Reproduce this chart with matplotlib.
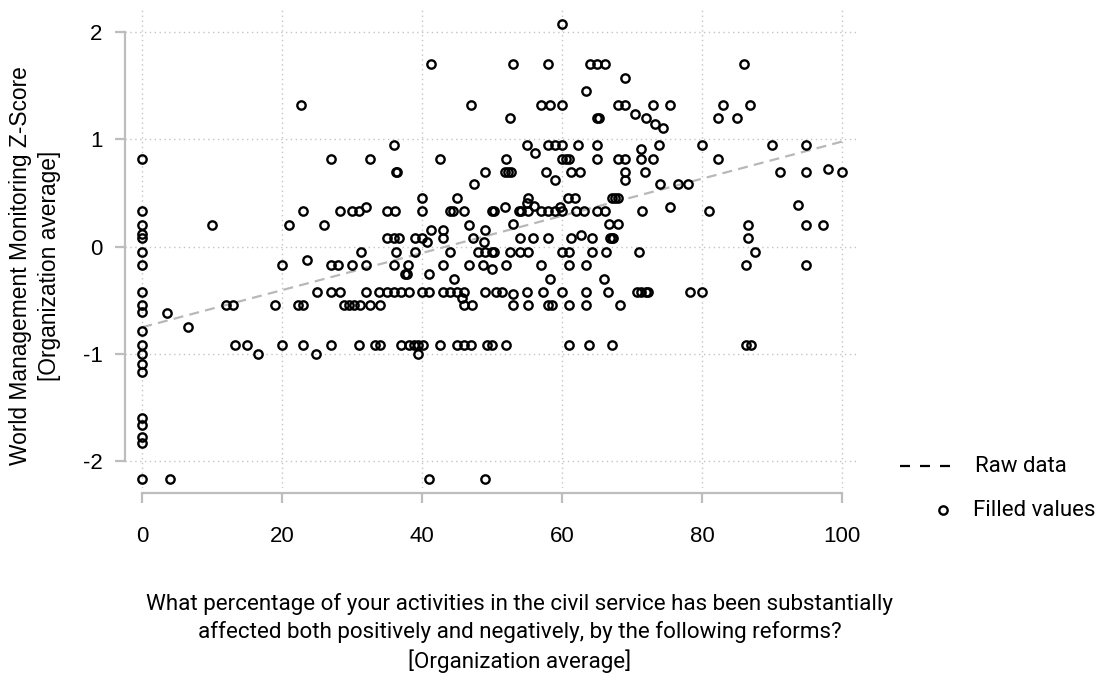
import matplotlib
matplotlib.use("Agg")
import matplotlib.pyplot as plt
from matplotlib.lines import Line2D

plt.rcParams["axes.unicode_minus"] = False

# Percentage of activities affected (x) vs WMM z-score (y), one pair per organisation
pct_affected = [
    # x = 0 column
    0, 0, 0, 0, 0, 0, 0, 0, 0, 0, 0, 0, 0, 0, 0, 0, 0, 0, 0, 0,
    # 0-25
    22.7, 10.0, 21.0, 22.9, 19.9, 23.5, 3.5, 6.6, 12.0, 13.0, 18.9, 22.3, 23.0,
    13.3, 14.9, 16.6, 19.9, 22.9, 24.8, 4.0,
    # 25-50
    41.2, 47.0, 36.0, 27.0, 32.5, 42.5, 36.2, 36.4, 49.0, 47.4, 40.0, 45.0,
    28.3, 29.9, 31.0, 32.0, 34.9, 36.1, 40.0, 44.0, 44.4, 46.0, 49.9,
    26.0, 46.7, 41.2, 43.0, 49.0,
    34.9, 36.0, 36.6, 39.0, 40.0, 43.0, 47.2, 40.6, 48.8,
    31.3, 36.3, 39.0, 43.9, 47.9, 49.0, 49.9,
    27.0, 28.0, 30.0, 32.0, 36.0, 38.0, 43.0, 46.6, 48.6,
    49.9, 37.5, 37.8, 41.0, 44.5,
    25.0, 27.0, 28.3, 32.0, 33.8, 35.0, 36.0, 37.0, 38.1, 40.0, 41.0, 43.0,
    44.0, 44.9, 46.0, 49.0, 50.5, 45.7,
    28.8, 29.5, 30.2, 31.1, 32.5, 33.9, 46.0, 47.1,
    27.0, 31.0, 33.2, 33.9, 36.9, 38.1, 38.8, 39.4, 40.1, 42.5, 44.9, 46.0,
    47.0, 49.3, 50.0, 39.4, 41.0, 49.0,
    # 50-76
    60.0, 53.0, 58.0, 63.9, 65.0, 66.1, 69.0, 63.4,
    57.0, 58.2, 60.0, 67.9, 68.9, 73.0, 75.4,
    52.5, 65.0, 65.3, 70.4, 71.9, 73.2, 74.4,
    55.0, 58.0, 59.0, 60.0, 62.2, 65.0, 73.8, 56.1, 71.2,
    52.0, 60.0, 60.5, 60.9, 65.0, 67.9, 68.9, 71.2, 73.0,
    51.8, 52.3, 52.7, 57.6, 61.2, 62.5, 69.0, 71.8,
    59.0, 69.0, 74.0,
    55.1, 60.8, 61.8, 67.1, 67.5, 67.9, 75.4,
    50.2, 51.8, 53.8, 54.1, 55.0, 56.0, 55.1, 57.0, 58.0, 59.0, 59.6, 60.0,
    62.0, 63.1, 65.0, 66.1, 71.4,
    53.0, 66.6, 68.0,
    54.0, 55.8, 58.0, 61.2, 62.6, 64.3, 66.8, 67.1, 67.3,
    50.2, 52.5, 54.0, 55.1, 59.9, 61.0, 64.3, 66.3, 71.0,
    52.0, 57.0, 61.0, 63.4, 58.2, 66.0,
    51.4, 53.0, 55.0, 57.3, 60.0, 63.4, 66.5, 70.7, 71.3, 71.9, 72.3,
    53.0, 55.1, 58.0, 58.5, 61.0, 63.4, 68.3,
    52.0, 61.0, 63.8, 67.1,
    # 76-100
    85.9, 82.9, 86.8, 82.3, 84.9, 79.9, 89.9, 94.8, 82.3, 91.1, 94.8, 97.9,
    99.9, 76.5, 77.9, 81.0, 93.6, 86.5, 94.8, 97.3, 86.5, 87.5, 86.3, 94.8,
    78.3, 79.9, 86.2, 86.9,
]

wmm_zscore = [
    0.82, 0.33, 0.20, 0.12, 0.08, -0.05, -0.17, -0.42, -0.54, -0.61, -0.79,
    -0.92, -1.00, -1.09, -1.17, -1.60, -1.66, -1.77, -1.83, -2.16,
    1.32, 0.20, 0.20, 0.33, -0.17, -0.12, -0.62, -0.75, -0.54, -0.54, -0.54, -0.54, -0.54,
    -0.92, -0.92, -1.00, -0.92, -0.92, -1.00, -2.16,
    1.70, 1.32, 0.95, 0.82, 0.82, 0.82, 0.70, 0.70, 0.70, 0.58, 0.45, 0.45,
    0.33, 0.33, 0.33, 0.37, 0.33, 0.33, 0.33, 0.33, 0.33, 0.33, 0.33,
    0.20, 0.20, 0.16, 0.16, 0.16,
    0.08, 0.08, 0.08, 0.08, 0.08, 0.08, 0.08, 0.04, 0.04,
    -0.05, -0.05, -0.05, -0.05, -0.05, -0.05, -0.05,
    -0.17, -0.17, -0.17, -0.17, -0.17, -0.17, -0.17, -0.17, -0.17,
    -0.21, -0.25, -0.25, -0.25, -0.30,
    -0.42, -0.42, -0.42, -0.42, -0.42, -0.42, -0.42, -0.42, -0.42, -0.42, -0.42, -0.42,
    -0.42, -0.42, -0.42, -0.42, -0.42, -0.48,
    -0.54, -0.54, -0.54, -0.54, -0.54, -0.54, -0.54, -0.54,
    -0.92, -0.92, -0.92, -0.92, -0.92, -0.92, -0.92, -0.92, -0.92, -0.92, -0.92, -0.92,
    -0.92, -0.92, -0.92, -1.00, -2.16, -2.16,
    2.07, 1.70, 1.70, 1.70, 1.70, 1.70, 1.57, 1.45,
    1.32, 1.32, 1.32, 1.32, 1.32, 1.32, 1.32,
    1.20, 1.20, 1.20, 1.24, 1.20, 1.14, 1.11,
    0.95, 0.95, 0.95, 0.95, 0.95, 0.95, 0.95, 0.87, 0.91,
    0.82, 0.82, 0.82, 0.82, 0.82, 0.82, 0.82, 0.82, 0.82,
    0.70, 0.70, 0.70, 0.70, 0.70, 0.70, 0.70, 0.70,
    0.62, 0.62, 0.58,
    0.45, 0.45, 0.45, 0.45, 0.45, 0.45, 0.37,
    0.33, 0.37, 0.33, 0.33, 0.41, 0.38, 0.33, 0.33, 0.33, 0.33, 0.37, 0.33,
    0.33, 0.33, 0.33, 0.33, 0.33,
    0.21, 0.21, 0.21,
    0.08, 0.08, 0.08, 0.08, 0.11, 0.08, 0.08, 0.08, 0.08,
    -0.05, -0.05, -0.05, -0.05, -0.05, -0.05, -0.05, -0.05, -0.05,
    -0.17, -0.17, -0.17, -0.17, -0.30, -0.30,
    -0.42, -0.44, -0.42, -0.42, -0.42, -0.42, -0.42, -0.42, -0.42, -0.42, -0.42,
    -0.54, -0.54, -0.54, -0.54, -0.54, -0.54, -0.54,
    -0.92, -0.92, -0.92, -0.92,
    1.70, 1.32, 1.32, 1.20, 1.20, 0.95, 0.95, 0.95, 0.82, 0.70, 0.70, 0.72,
    0.70, 0.58, 0.58, 0.33, 0.39, 0.20, 0.20, 0.20, 0.08, -0.05, -0.17, -0.17,
    -0.42, -0.42, -0.92, -0.92,
]

fit_x = [0, 100]
fit_y = [-0.75, 0.98]

x_ticks = [0, 20, 40, 60, 80, 100]
y_ticks = [-2, -1, 0, 1, 2]

xlabel = ("What percentage of your activities in the civil service has been substantially\n"
          "affected both positively and negatively, by the following reforms?\n"
          "[Organization average]")
ylabel = "World Management Monitoring Z-Score\n[Organization average]"

W, H = 1106, 675
axis_grey = "#bdbdbd"
tick_font = "Liberation Sans"
label_font = "Roboto"

fig = plt.figure(figsize=(W / 100, H / 100), dpi=100)
ax = fig.add_axes([125 / W, 1 - 488 / H, (858 - 125) / W, (488 - 10) / H])

ax.plot(fit_x, fit_y, color="#b8b8b8", lw=1.6, dashes=(4.5, 2.8), zorder=2)
ax.plot(pct_affected, wmm_zscore, "o", mfc="none", mec="black", ms=6, mew=1.7, zorder=3)

ax.set_xlim(-2.47, 102.24)
ax.set_ylim(-2.248, 2.205)
ax.set_xticks(x_ticks)
ax.set_yticks(y_ticks)
ax.grid(True, linestyle=(0, (1, 2.5)), color="#c4c4c4", linewidth=1.0)
ax.set_axisbelow(True)

for s in ["top", "right"]:
    ax.spines[s].set_visible(False)
ax.spines["left"].set_bounds(-2, 2)
ax.spines["bottom"].set_bounds(0, 100)
ax.spines["bottom"].set_position(("outward", 3.6))
for s in ["left", "bottom"]:
    ax.spines[s].set_color(axis_grey)
    ax.spines[s].set_linewidth(1.6)

ax.tick_params(axis="both", direction="out", length=7.2, width=1.6, color=axis_grey,
               labelsize=16)
ax.tick_params(axis="y", pad=9)
ax.tick_params(axis="x", pad=16.5)
for lbl in ax.get_xticklabels() + ax.get_yticklabels():
    lbl.set_family(tick_font)

fig.text(35 / W, 1 - 266 / H, ylabel, rotation=90, ha="center", va="center",
         multialignment="center", fontsize=16.4, family=tick_font, linespacing=1.35)
fig.text(520 / W, 1 - 633 / H, xlabel, ha="center", va="center",
         multialignment="center", fontsize=16.1, family=label_font, linespacing=1.33)

# legend drawn by hand, placed like the original
fig.add_artist(Line2D([900 / W, 950 / W], [1 - 466 / H] * 2, transform=fig.transFigure,
                      color="black", lw=1.6, dashes=(4.5, 4.5)))
fig.text(975 / W, 1 - 466 / H, "Raw data", ha="left", va="center", fontsize=16,
         family=label_font)
fig.add_artist(Line2D([943 / W], [1 - 510 / H], transform=fig.transFigure, marker="o",
                      mfc="none", mec="black", ms=6, mew=1.7, linestyle="none"))
fig.text(973 / W, 1 - 510 / H, "Filled values", ha="left", va="center", fontsize=16,
         family=label_font)

fig.savefig("out.png", dpi=100)
